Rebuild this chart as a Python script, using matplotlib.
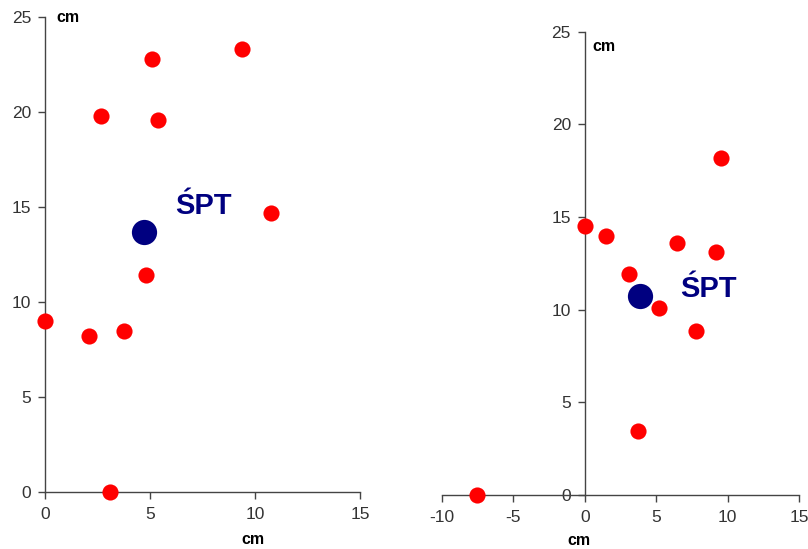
import matplotlib
matplotlib.use('Agg')
import matplotlib.pyplot as plt

plt.rcParams['font.family'] = ['Liberation Sans', 'DejaVu Sans']
plt.rcParams['axes.unicode_minus'] = False

# left panel
left_x = [0, 2.1, 3.75, 4.8, 3.1, 2.65, 5.1, 5.4, 9.4, 10.75]
left_y = [9.0, 8.2, 8.5, 11.4, 0, 19.8, 22.8, 19.6, 23.3, 14.7]
left_cx, left_cy = 4.7, 13.7

# right panel
right_x = [0, 1.45, 3.08, 6.47, 9.2, 9.5, 5.18, 7.8, 3.73, -7.55]
right_y = [14.5, 14.0, 11.9, 13.6, 13.1, 18.2, 10.1, 8.85, 3.45, 0]
right_cx, right_cy = 3.85, 10.75

xticks_left = [0, 5, 10, 15]
xticks_right = [-10, -5, 0, 5, 10, 15]
yticks = [0, 5, 10, 15, 20, 25]

RED = '#ff0000'
NAVY = '#000080'
TICKC = '#333333'

fig = plt.figure(figsize=(8.08, 5.49), dpi=100)
ax1 = fig.add_axes([0.0557, 0.1038, 0.390, 0.865])
ax2 = fig.add_axes([0.547, 0.0989, 0.442, 0.843])


def style(ax, xlim, xticks):
    ax.set_xlim(*xlim)
    ax.set_ylim(0, 25)
    ax.set_xticks(xticks)
    ax.set_yticks(yticks)
    for s in ['top', 'right']:
        ax.spines[s].set_visible(False)
    ax.spines['left'].set_position(('data', 0))
    ax.spines['bottom'].set_position(('data', 0))
    for s in ['left', 'bottom']:
        ax.spines[s].set_color('#444444')
        ax.spines[s].set_linewidth(1.0)
    ax.tick_params(direction='out', length=5, width=1, color='#444444',
                   labelsize=12.5, labelcolor=TICKC)
    ax.tick_params(axis='x', pad=6)
    ax.tick_params(axis='y', pad=5)
    ax.patch.set_alpha(0)


style(ax1, (0, 15), xticks_left)
ax1.scatter(left_x, left_y, s=135, color=RED, zorder=3, clip_on=False, linewidths=0)
ax1.scatter([left_cx], [left_cy], s=330, color=NAVY, zorder=4, linewidths=0)
ax1.text(6.2, 15.05, 'ŚPT', color=NAVY, fontsize=21, fontweight='bold', va='center')
ax1.text(0.55, 25, 'cm', fontsize=11.5, fontweight='bold', va='center')
ax1.text(9.9, -2.5, 'cm', fontsize=11.5, fontweight='bold', ha='center', va='center')

style(ax2, (-10, 15), xticks_right)
ax2.scatter(right_x, right_y, s=135, color=RED, zorder=3, clip_on=False, linewidths=0)
ax2.scatter([right_cx], [right_cy], s=330, color=NAVY, zorder=4, linewidths=0)
ax2.text(6.65, 11.1, 'ŚPT', color=NAVY, fontsize=21, fontweight='bold', va='center')
ax2.text(0.55, 24.2, 'cm', fontsize=11.5, fontweight='bold', va='center')
ax2.text(-0.4, -2.5, 'cm', fontsize=11.5, fontweight='bold', ha='center', va='center')

fig.savefig('out.png', dpi=100)
